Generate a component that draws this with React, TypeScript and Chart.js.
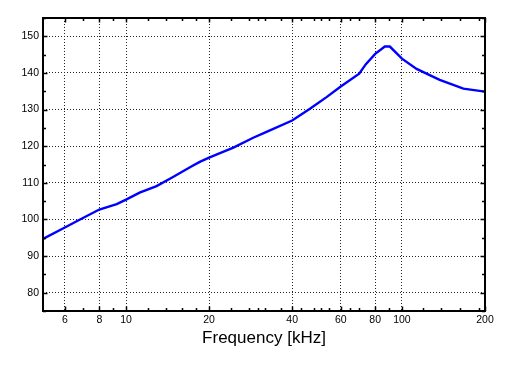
import React, { useEffect, useRef } from "react";
import { Chart, registerables } from "chart.js";

Chart.register(...registerables);

// Frequency response data (kHz vs. level)
const freqKHz = [5, 6, 6.81, 8, 9.25, 10, 11.2, 12.9, 14.8, 17.3, 18.5, 20, 21.9, 24.5, 28.9, 32.3, 40, 46.4, 53.3, 60, 70, 74, 80, 86.7, 90.4, 100, 113, 137, 167, 200];
const levels = [94.7, 97.8, 100.0, 102.7, 104.2, 105.4, 107.3, 109.1, 111.6, 114.5, 115.7, 116.9, 118.1, 119.6, 122.3, 123.9, 127.0, 130.2, 133.4, 136.3, 139.8, 142.4, 145.2, 147.2, 147.2, 143.9, 141.1, 138.1, 135.7, 134.9];

const xTicks = [6, 8, 10, 20, 40, 60, 80, 100, 200];
const xMinorTicks = [7, 9, 12, 14, 16, 18, 24, 28, 30, 32, 36.5, 43, 48, 51, 54.5, 65, 70, 90, 119, 139, 163, 190];
const yTicks = [80, 90, 100, 110, 120, 130, 140, 150];
const yMinorTicks = [75, 85, 95, 105, 115, 125, 135, 145, 155];

const xMin = 5;
const xMax = 200;
const yMin = 75;
const yMax = 155;
const xTitle = "Frequency [kHz]";

const FONT = "'Liberation Sans', Arial, Helvetica, sans-serif";

const boxPlugin = {
  id: "matlabBox",
  afterDraw(chart: any) {
    const { ctx, chartArea } = chart;
    const { left, right, top, bottom } = chartArea;
    const xs = chart.scales.x;
    const ys = chart.scales.y;
    ctx.save();
    ctx.strokeStyle = "#000";
    ctx.lineWidth = 1.5;
    const major = 4.5;
    const minor = 3;
    ctx.beginPath();
    const vTick = (v: number, len: number) => {
      const px = Math.round(xs.getPixelForValue(v)) + 0.5;
      ctx.moveTo(px, bottom);
      ctx.lineTo(px, bottom - len);
      ctx.moveTo(px, top);
      ctx.lineTo(px, top + len);
    };
    const hTick = (v: number, len: number) => {
      const py = Math.round(ys.getPixelForValue(v)) + 0.5;
      ctx.moveTo(left, py);
      ctx.lineTo(left + len, py);
      ctx.moveTo(right, py);
      ctx.lineTo(right - len, py);
    };
    xTicks.forEach((v) => vTick(v, major));
    xMinorTicks.forEach((v) => vTick(v, minor));
    yTicks.forEach((v) => hTick(v, major));
    yMinorTicks.forEach((v) => hTick(v, minor));
    ctx.stroke();
    ctx.lineWidth = 2;
    ctx.strokeRect(left, top, right - left, bottom - top);
    ctx.restore();
  },
};

export default function App() {
  const canvasRef = useRef<HTMLCanvasElement | null>(null);

  useEffect(() => {
    if (!canvasRef.current) return;
    const chart = new Chart(canvasRef.current, {
      type: "line",
      data: {
        datasets: [
          {
            data: freqKHz.map((f, i) => ({ x: f, y: levels[i] })),
            borderColor: "#0000ff",
            borderWidth: 2.4,
            pointRadius: 0,
            tension: 0,
            fill: false,
          },
        ],
      },
      options: {
        responsive: false,
        animation: false,
        layout: { padding: { top: 18, right: 24, bottom: 0, left: 0 } },
        plugins: {
          legend: { display: false },
          tooltip: { enabled: false },
        },
        scales: {
          x: {
            type: "logarithmic",
            min: xMin,
            max: xMax,
            afterBuildTicks: (scale: any) => {
              scale.ticks = xTicks.map((v) => ({ value: v }));
            },
            afterFit: (scale: any) => {
              scale.height = 75;
            },
            ticks: {
              autoSkip: false,
              maxRotation: 0,
              padding: 3,
              color: "#000",
              font: { family: FONT, size: 10.5 },
              callback: (v: any) => String(v),
            },
            grid: {
              drawTicks: false,
              color: "#222",
              lineWidth: 1,
            },
            border: { display: false, dash: [1, 2] },
            title: {
              display: true,
              text: xTitle,
              color: "#000",
              font: { family: FONT, size: 17 },
              padding: { top: 0, bottom: 37 },
            },
          },
          y: {
            type: "linear",
            min: yMin,
            max: yMax,
            afterBuildTicks: (scale: any) => {
              scale.ticks = yTicks.map((v) => ({ value: v }));
            },
            afterFit: (scale: any) => {
              scale.width = 43;
            },
            ticks: {
              padding: 4,
              color: "#000",
              font: { family: FONT, size: 10.5 },
              callback: (v: any) => String(v),
            },
            grid: {
              drawTicks: false,
              color: "#222",
              lineWidth: 1,
            },
            border: { display: false, dash: [1, 2] },
          },
        },
      },
      plugins: [boxPlugin],
    });
    return () => chart.destroy();
  }, []);

  return (
    <div style={{ position: "fixed", left: 0, top: 0, width: 509, height: 386, background: "#fff" }}>
      <canvas ref={canvasRef} width={509} height={386} />
    </div>
  );
}
